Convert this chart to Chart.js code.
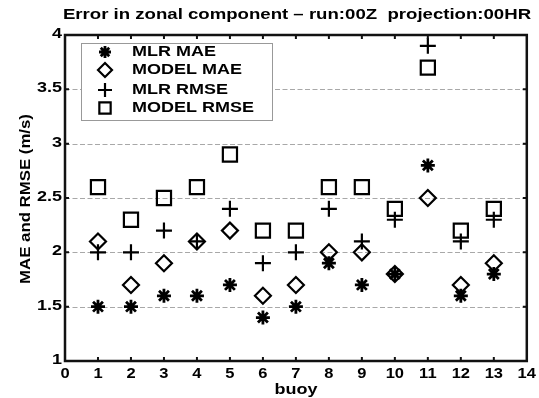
<!DOCTYPE html>
<html>
<head>
<meta charset="utf-8">
<script src="https://cdn.jsdelivr.net/npm/chart.js@4.4.0/dist/chart.umd.min.js"></script>
<style>
  body { margin: 0; background: #fff; }
  canvas { display: block; }
</style>
</head>
<body>
<canvas id="chart" width="539" height="398"></canvas>
<script>
// --- data ---
const buoys = [1, 2, 3, 4, 5, 6, 7, 8, 9, 10, 11, 12, 13];
const mlrMae = [1.5, 1.5, 1.6, 1.6, 1.7, 1.4, 1.5, 1.9, 1.7, 1.8, 2.8, 1.6, 1.8];
const modelMae = [2.1, 1.7, 1.9, 2.1, 2.2, 1.6, 1.7, 2.0, 2.0, 1.8, 2.5, 1.7, 1.9];
const mlrRmse = [2.0, 2.0, 2.2, 2.1, 2.4, 1.9, 2.0, 2.4, 2.1, 2.3, 3.9, 2.1, 2.3];
const modelRmse = [2.6, 2.3, 2.5, 2.6, 2.9, 2.2, 2.2, 2.6, 2.6, 2.4, 3.7, 2.2, 2.4];

const xTicks = [0, 1, 2, 3, 4, 5, 6, 7, 8, 9, 10, 11, 12, 13, 14];
const yTicks = [1, 1.5, 2, 2.5, 3, 3.5, 4];

const seriesNames = ["MLR MAE", "MODEL MAE", "MLR RMSE", "MODEL RMSE"];
const seriesStyles = ["star", "rectRot", "cross", "rect"];
const seriesRadius = [7, 8, 8, 10];
const seriesWidth = [2.8, 2.2, 2.2, 2.2];
const legendRadius = [6, 7, 7, 8];

const FONT = "'Liberation Sans', Arial, sans-serif";

// text in the source is wide and heavy, so stretch it along its direction
function wideText(ctx, text, x, y, size, stretch, align, angle) {
  ctx.save();
  ctx.translate(x, y);
  if (angle) ctx.rotate(angle);
  ctx.scale(stretch, 1);
  ctx.font = "bold " + size + "px " + FONT;
  ctx.textAlign = align || "center";
  ctx.textBaseline = "middle";
  ctx.fillStyle = "#000";
  ctx.fillText(text, 0, 0);
  ctx.restore();
}

const allSeries = [mlrMae, modelMae, mlrRmse, modelRmse];
const datasets = allSeries.map((vals, i) => ({
  label: seriesNames[i],
  data: buoys.map((b, j) => ({ x: b, y: vals[j] })),
  pointStyle: seriesStyles[i],
  pointRadius: seriesRadius[i],
  pointHoverRadius: seriesRadius[i],
  pointBorderColor: "#000",
  pointBackgroundColor: "rgba(255,255,255,0)",
  pointBorderWidth: seriesWidth[i],
  showLine: false
}));

// dashed horizontal grid under the marks
const gridPlugin = {
  id: "dashGrid",
  beforeDatasetsDraw(chart) {
    const ctx = chart.ctx, a = chart.chartArea, ys = chart.scales.y;
    ctx.save();
    ctx.strokeStyle = "#a8a8a8";
    ctx.lineWidth = 1;
    ctx.setLineDash([5, 2.5]);
    ctx.beginPath();
    yTicks.slice(1, -1).forEach(v => {
      const py = Math.round(ys.getPixelForValue(v)) + 0.5;
      ctx.moveTo(a.left, py); ctx.lineTo(a.right, py);
    });
    ctx.stroke();
    ctx.restore();
  }
};

// frame, inward ticks, labels, title and legend
const framePlugin = {
  id: "frame",
  afterDraw(chart) {
    const ctx = chart.ctx;
    const a = chart.chartArea;
    const xs = chart.scales.x, ys = chart.scales.y;
    ctx.save();
    ctx.strokeStyle = "#111";
    ctx.lineWidth = 2.5;
    ctx.strokeRect(a.left, a.top, a.right - a.left, a.bottom - a.top);
    ctx.lineWidth = 2;
    ctx.beginPath();
    xTicks.slice(1, -1).forEach(v => {
      const px = xs.getPixelForValue(v);
      ctx.moveTo(px, a.bottom); ctx.lineTo(px, a.bottom - 4);
      ctx.moveTo(px, a.top); ctx.lineTo(px, a.top + 4);
    });
    yTicks.slice(1, -1).forEach(v => {
      const py = ys.getPixelForValue(v);
      ctx.moveTo(a.left, py); ctx.lineTo(a.left + 4, py);
      ctx.moveTo(a.right, py); ctx.lineTo(a.right - 4, py);
    });
    ctx.stroke();
    ctx.restore();

    // tick labels
    xTicks.forEach(v => wideText(ctx, String(v), xs.getPixelForValue(v), 374, 15, 1.1, "center"));
    yTicks.forEach(v => wideText(ctx, String(v), 62, ys.getPixelForValue(v) - 1, 15, 1.2, "right"));

    // axis titles and chart title
    wideText(ctx, "buoy", 296, 390, 15, 1.2, "center");
    wideText(ctx, "MAE and RMSE (m/s)", 26, 199, 14, 1.2, "center", -Math.PI / 2);
    wideText(ctx, "Error in zonal component \u2013 run:00Z  projection:00HR", 297, 15, 15, 1.24, "center");

    // legend box
    const lx = 81, ly = 43, lw = 191, lh = 77;
    ctx.save();
    ctx.fillStyle = "#fff";
    ctx.fillRect(lx, ly, lw, lh);
    ctx.strokeStyle = "#999";
    ctx.lineWidth = 1;
    ctx.strokeRect(lx + 0.5, ly + 0.5, lw, lh);
    const rowY = [52, 70, 90, 108];
    for (let i = 0; i < seriesNames.length; i++) {
      ctx.strokeStyle = "#000";
      ctx.fillStyle = "rgba(255,255,255,0)";
      ctx.lineWidth = seriesWidth[i];
      Chart.helpers.drawPoint(ctx, {
        pointStyle: seriesStyles[i], radius: legendRadius[i], rotation: 0, borderWidth: seriesWidth[i]
      }, 105, rowY[i]);
      wideText(ctx, seriesNames[i], 132, rowY[i], 15, 1.2, "left");
    }
    ctx.restore();
  }
};

const ctx = document.getElementById("chart").getContext("2d");
new Chart(ctx, {
  type: "scatter",
  data: { datasets: datasets },
  options: {
    responsive: false,
    animation: false,
    layout: { padding: { left: 0, right: 11, top: 35, bottom: 0 } },
    plugins: { legend: { display: false }, tooltip: { enabled: false } },
    scales: {
      x: {
        type: "linear",
        min: xTicks[0], max: xTicks[xTicks.length - 1],
        ticks: { display: false, stepSize: 1 },
        grid: { display: false, drawTicks: false },
        border: { display: false },
        afterFit(scale) { scale.height = 37; }
      },
      y: {
        type: "linear",
        min: yTicks[0], max: yTicks[yTicks.length - 1],
        ticks: { display: false, stepSize: 0.5 },
        grid: { display: false, drawTicks: false },
        border: { display: false },
        afterFit(scale) { scale.width = 65; }
      }
    }
  },
  plugins: [gridPlugin, framePlugin]
});
</script>
</body>
</html>
